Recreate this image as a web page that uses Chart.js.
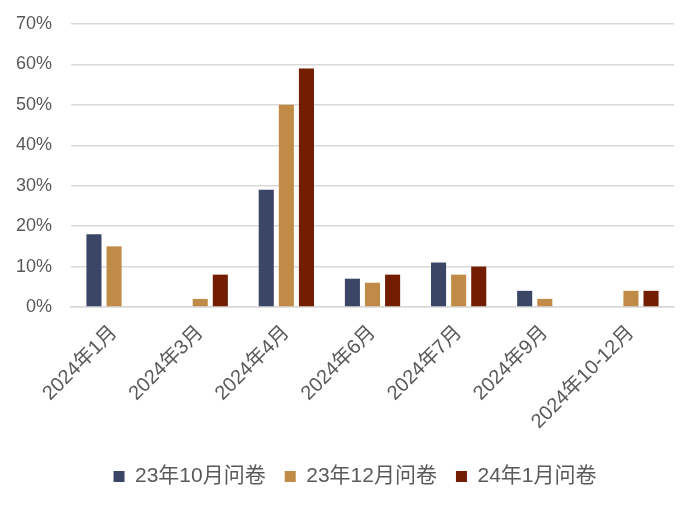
<!DOCTYPE html>
<html>
<head>
<meta charset="utf-8">
<script src="https://cdn.jsdelivr.net/npm/chart.js@4"></script>
<style>
  html, body { margin: 0; padding: 0; background: #fff; }
  #wrap { width: 700px; height: 506px; }
</style>
</head>
<body>
<div id="wrap"><canvas id="chart"></canvas></div>
<script>
// categories and survey series (percent)
const categories = ["2024年1月", "2024年3月", "2024年4月", "2024年6月", "2024年7月", "2024年9月", "2024年10-12月"];
const seriesNames = ["23年10月问卷", "23年12月问卷", "24年1月问卷"];
const oct23 = [18, 0, 29, 7, 11, 4, 0];
const dec23 = [15, 2, 50, 6, 8, 2, 4];
const jan24 = [0, 8, 59, 8, 10, 0, 4];
const yTicks = [0, 10, 20, 30, 40, 50, 60, 70];

const colors = ["#3B4566", "#BF8B46", "#731D02"];
const textColor = "#595959";
const fontFamily = "'Liberation Sans', 'Noto Sans CJK SC', sans-serif";

// nudge the legend to the right so it is centred like the original
const legendShift = {
    id: "legendShift",
    afterLayout(chart) {
        chart.legend.left += 18;
        chart.legend.right += 18;
    }
};

const ctx = document.getElementById("chart");
new Chart(ctx, {
    type: "bar",
    data: {
        labels: categories,
        datasets: [oct23, dec23, jan24].map((vals, i) => ({
            label: seriesNames[i],
            data: vals,
            backgroundColor: colors[i],
            borderWidth: 0,
            categoryPercentage: 0.7,
            barPercentage: 0.75
        }))
    },
    plugins: [legendShift],
    options: {
        responsive: true,
        maintainAspectRatio: false,
        animation: false,
        layout: { padding: { top: 24, right: 26, left: 0, bottom: 9 } },
        plugins: {
            tooltip: { enabled: false },
            legend: {
                position: "bottom",
                labels: {
                    color: textColor,
                    font: { family: fontFamily, size: 21 },
                    boxWidth: 11,
                    boxHeight: 11,
                    padding: 19
                }
            }
        },
        scales: {
            x: {
                grid: { display: false },
                border: { color: "#D9D9D9", width: 1.5 },
                ticks: {
                    color: textColor,
                    font: { family: fontFamily, size: 20 },
                    minRotation: 45,
                    maxRotation: 45,
                    padding: 6
                },
                afterFit: (scale) => { scale.height = 140; }
            },
            y: {
                min: 0,
                max: 70,
                afterBuildTicks: (scale) => { scale.ticks = yTicks.map(v => ({ value: v })); },
                grid: { color: "#D9D9D9", lineWidth: 1.5, drawTicks: false },
                border: { display: false },
                ticks: {
                    color: textColor,
                    font: { family: fontFamily, size: 18 },
                    padding: 19,
                    callback: (v) => v + "%"
                },
                afterFit: (scale) => {
                    scale.width = 71;
                    scale.paddingTop = 0;
                    scale.paddingBottom = 0;
                }
            }
        }
    }
});
</script>
</body>
</html>
